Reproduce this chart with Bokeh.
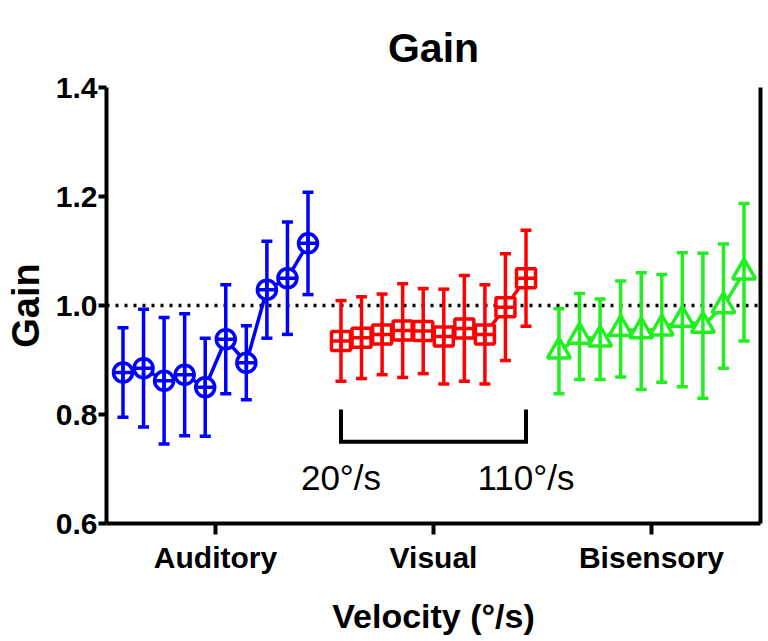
from bokeh.plotting import figure
from bokeh.models import (ColumnDataSource, FixedTicker, Span, Label,
                          NumeralTickFormatter, LinearAxis)
from bokeh.embed import file_html
from bokeh.resources import INLINE

# ---------------- data ----------------
categories = ["Auditory", "Visual", "Bisensory"]
velocity = [20, 30, 40, 50, 60, 70, 80, 90, 100, 110]
y_ticks = [0.6, 0.8, 1.0, 1.2, 1.4]
reference_gain = 1.0

auditory_gain = [0.877, 0.885, 0.862, 0.873, 0.850, 0.938, 0.895, 1.029, 1.050, 1.114]
auditory_sd = [0.082, 0.108, 0.116, 0.112, 0.090, 0.100, 0.068, 0.089, 0.103, 0.094]

visual_gain = [0.935, 0.941, 0.947, 0.954, 0.953, 0.943, 0.958, 0.947, 0.997, 1.050]
visual_sd = [0.074, 0.075, 0.074, 0.086, 0.078, 0.087, 0.097, 0.091, 0.098, 0.088]

bisensory_gain = [0.916, 0.943, 0.938, 0.957, 0.953, 0.958, 0.974, 0.963, 0.999, 1.061]
bisensory_sd = [0.078, 0.079, 0.074, 0.088, 0.107, 0.099, 0.123, 0.133, 0.114, 0.126]

bracket_labels = ["20°/s", "110°/s"]

# ---------------- style ----------------
FONT = "Liberation Sans"
colors = ["#0000ff", "#ff0000", "#22ee22"]
markers = ["circle_cross", "square_cross", "triangle"]
marker_sizes = [19, 19, 23]
LW = 3.5
step = 0.0943 / 10.0  # x offset per deg/s inside a group

p = figure(width=764, height=641, x_range=(-0.5, 2.5), y_range=(0.6, 1.4),
           output_backend="svg", toolbar_location=None,
           min_border_left=106, min_border_right=4,
           min_border_top=87, min_border_bottom=118,
           title="Gain")
p.xgrid.visible = False
p.ygrid.visible = False
p.outline_line_color = None
p.background_fill_color = "white"
p.border_fill_color = "white"

p.title.align = "center"
p.title.text_font = FONT
p.title.text_font_style = "bold"
p.title.text_font_size = "41px"
p.title.text_color = "black"
p.title.standoff = 34

# reference line at gain 1.0
p.add_layout(Span(location=reference_gain, dimension="width", line_color="black",
                  line_width=3.5, line_dash="3 6", level="underlay"))

# right frame line (axis without ticks or labels)
right = LinearAxis(ticker=FixedTicker(ticks=[]), axis_line_width=4, axis_line_color="black",
                   major_tick_line_color=None, minor_tick_line_color=None,
                   major_tick_out=0, major_tick_in=0, major_label_standoff=0)
p.add_layout(right, "right")

series = [(auditory_gain, auditory_sd), (visual_gain, visual_sd), (bisensory_gain, bisensory_sd)]
for gi, (g, sd) in enumerate(series):
    xs = [gi + (v - 65) * step for v in velocity]
    lo = [m - s for m, s in zip(g, sd)]
    hi = [m + s for m, s in zip(g, sd)]
    src = ColumnDataSource(dict(x=xs, y=g, lo=lo, hi=hi))
    c = colors[gi]
    p.line("x", "y", source=src, line_color=c, line_width=LW)
    p.scatter("x", "y", source=src, marker=markers[gi], size=marker_sizes[gi],
              line_color=c, line_width=LW, fill_color="white")
    p.segment(x0="x", y0="lo", x1="x", y1="hi", source=src, line_color=c, line_width=LW)
    p.scatter("x", "lo", source=src, marker="dash", size=11, line_color=c, line_width=LW)
    p.scatter("x", "hi", source=src, marker="dash", size=11, line_color=c, line_width=LW)

# velocity bracket under the visual group
bx0 = 1 + (velocity[0] - 65) * step
bx1 = 1 + (velocity[-1] - 65) * step
bracket_top, bracket_bottom = 0.809, 0.750
p.line([bx0, bx0, bx1, bx1], [bracket_top, bracket_bottom, bracket_bottom, bracket_top],
       line_color="black", line_width=4, line_join="miter")
for bx, txt in zip([bx0, bx1], bracket_labels):
    p.add_layout(Label(x=bx, y=0.685, text=txt, text_align="center",
                       text_baseline="alphabetic", text_font=FONT,
                       text_font_size="35px", text_color="black"))

# axes
for ax in (p.xaxis[0], p.yaxis[0]):
    ax.axis_line_width = 4
    ax.axis_line_color = "black"
    ax.major_tick_line_width = 4
    ax.major_tick_line_color = "black"
    ax.major_tick_in = 0
    ax.minor_tick_line_color = None
    ax.major_label_text_font = FONT
    ax.major_label_text_font_style = "bold"
    ax.major_label_text_font_size = "30px"
    ax.major_label_text_color = "black"
    ax.axis_label_text_font = FONT
    ax.axis_label_text_font_style = "bold"
    ax.axis_label_text_color = "black"

p.yaxis[0].ticker = FixedTicker(ticks=y_ticks)
p.yaxis[0].formatter = NumeralTickFormatter(format="0.0")
p.yaxis[0].major_tick_out = 8
p.yaxis[0].major_label_standoff = 1
p.yaxis[0].axis_label = "Gain"
p.yaxis[0].axis_label_text_font_size = "38px"
p.yaxis[0].axis_label_standoff = 6

p.xaxis.ticker = FixedTicker(ticks=[0, 1, 2])
p.xaxis.major_label_overrides = {i: c for i, c in enumerate(categories)}
p.xaxis.major_tick_out = 11
p.xaxis.major_label_standoff = 6
p.xaxis.axis_label = "Velocity (°/s)"
p.xaxis.axis_label_text_font_size = "34px"
p.xaxis.axis_label_standoff = 20

open("out.html", "w").write(file_html(p, INLINE))
